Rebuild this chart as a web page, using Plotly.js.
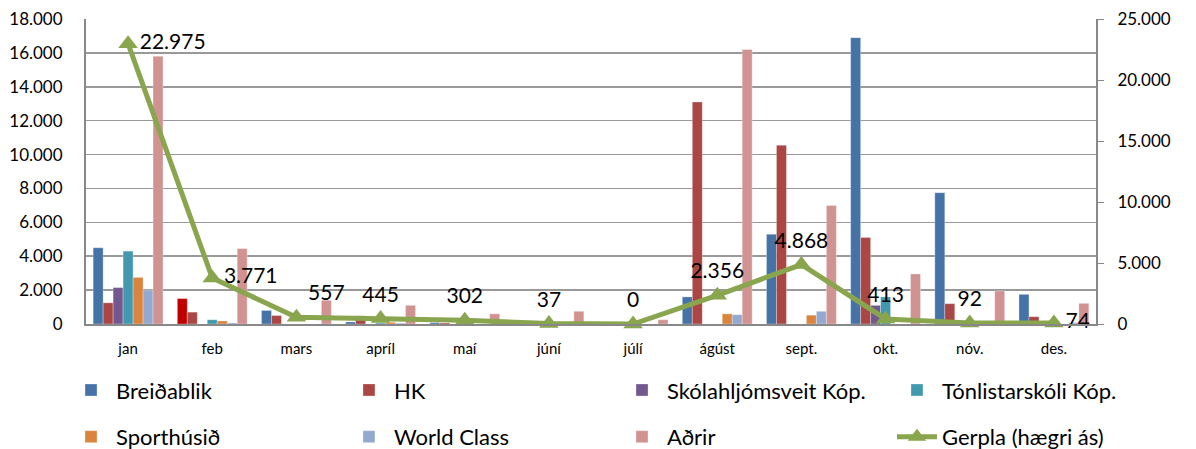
<!DOCTYPE html>
<html>
<head>
<meta charset="utf-8">
<script src="https://cdn.plot.ly/plotly-3.0.1.min.js"></script>
<style>html,body{margin:0;padding:0;background:#fff;}#chart{width:1196px;height:449px;}</style>
</head>
<body>
<div id="chart"></div>
<script>
const months = ['jan','feb','mars','apríl','maí','júní','júlí','ágúst','sept.','okt.','nóv.','des.'];
const breidablik = [4500, 1500, 800, 120, 80, 30, 0, 1600, 5300, 16900, 7750, 1750];
const hk = [1250, 700, 500, 480, 60, 20, 0, 13100, 10550, 5100, 1200, 430];
const skolahljomsveit = [2150, 0, 0, 0, 0, 0, 0, 0, 0, 1100, 0, 0];
const tonlistarskoli = [4300, 250, 0, 60, 0, 0, 0, 0, 0, 1600, 0, 0];
const sporthusid = [2750, 180, 0, 100, 0, 0, 0, 600, 520, 0, 0, 0];
const worldClass = [2000, 60, 0, 50, 0, 0, 0, 550, 750, 0, 0, 80];
const adrir = [15800, 4450, 1400, 1100, 600, 750, 250, 16200, 7000, 2950, 1950, 1220];
const gerpla = [22975, 3771, 557, 445, 302, 37, 0, 2356, 4868, 413, 92, 74];
const gerplaLabelPos = ['middle right','middle right','top right','top center','top center','top center','top center','top center','top center','top center','top center','middle right'];

const FONT = 'Lato, "Open Sans", sans-serif';
const bar = (name, y, color, legend) => ({
  type: 'bar', name: name, x: months, y: y, marker: {color: color, line: {color: 'rgba(255,255,255,0.6)', width: 0.5}},
  legend: legend, hoverinfo: 'skip'
});
const bColors = breidablik.map((v, i) => i === 1 ? '#C00000' : '#4572A7');

const traces = [
  bar('Breiðablik', breidablik, bColors, 'legend'),
  bar('HK', hk, '#AA4643', 'legend2'),
  bar('Skólahljómsveit Kóp.', skolahljomsveit, '#71588F', 'legend3'),
  bar('Tónlistarskóli Kóp.', tonlistarskoli, '#4198AF', 'legend4'),
  bar('Sporthúsið', sporthusid, '#DB843D', 'legend5'),
  bar('World Class', worldClass, '#93A9CF', 'legend6'),
  bar('Aðrir', adrir, '#D19392', 'legend7'),
  {
    type: 'scatter', mode: 'lines+markers+text', name: 'Gerpla (hægri ás)', x: months, y: gerpla, yaxis: 'y2',
    line: {color: '#89A54E', width: 5}, marker: {symbol: 'triangle-up', size: 17, color: '#89A54E'},
    texttemplate: '%{y:,d}', textposition: gerplaLabelPos, textfont: {family: FONT, size: 21, color: '#000'},
    cliponaxis: false, legend: 'legend8', hoverinfo: 'skip'
  }
];

const legendAt = (x, y) => ({
  orientation: 'v', xref: 'container', yref: 'container', xanchor: 'left', yanchor: 'middle', x: x, y: y,
  font: {family: FONT, size: 22, color: '#000'}, bgcolor: 'rgba(0,0,0,0)', itemwidth: 40
});
const colX = [0.0552, 0.2876, 0.5159, 0.7458];
const rowY = [0.131, 0.027];

const layout = {
  width: 1196, height: 449,
  margin: {l: 86, r: 100, t: 19, b: 125, autoexpand: false},
  paper_bgcolor: '#fff', plot_bgcolor: '#fff',
  separators: ',.',
  barmode: 'group', bargap: 0.17, bargroupgap: 0,
  font: {family: FONT, color: '#000'},
  xaxis: {
    type: 'category', range: [-0.5, 11.5], autorange: false, showline: true, linecolor: '#888', linewidth: 2, ticks: '',
    tickfont: {family: FONT, size: 15, color: '#000'}, showgrid: false, ticklabelstandoff: 10
  },
  yaxis: {
    range: [0, 18000], dtick: 2000, tickformat: ',d', showgrid: true, gridcolor: '#999', gridwidth: 1.5,
    showline: true, linecolor: '#888', linewidth: 2, ticks: '', zeroline: false, ticklabelstandoff: 18,
    tickfont: {family: FONT, size: 17, color: '#000'}
  },
  yaxis2: {
    overlaying: 'y', side: 'right', range: [0, 25000], dtick: 5000, tickformat: ',d', showgrid: false,
    showline: true, linecolor: '#888', linewidth: 2, ticks: 'outside', ticklen: 6, tickcolor: '#888', zeroline: false,
    ticklabelstandoff: 10, tickfont: {family: FONT, size: 17, color: '#000'}
  },
  legend: legendAt(colX[0], rowY[0]),
  legend2: legendAt(colX[1], rowY[0]),
  legend3: legendAt(colX[2], rowY[0]),
  legend4: legendAt(colX[3], rowY[0]),
  legend5: legendAt(colX[0], rowY[1]),
  legend6: legendAt(colX[1], rowY[1]),
  legend7: legendAt(colX[2], rowY[1]),
  legend8: legendAt(colX[3], rowY[1]),
  showlegend: true
};

Plotly.newPlot('chart', traces, layout, {displayModeBar: false, staticPlot: true});
</script>
</body>
</html>
